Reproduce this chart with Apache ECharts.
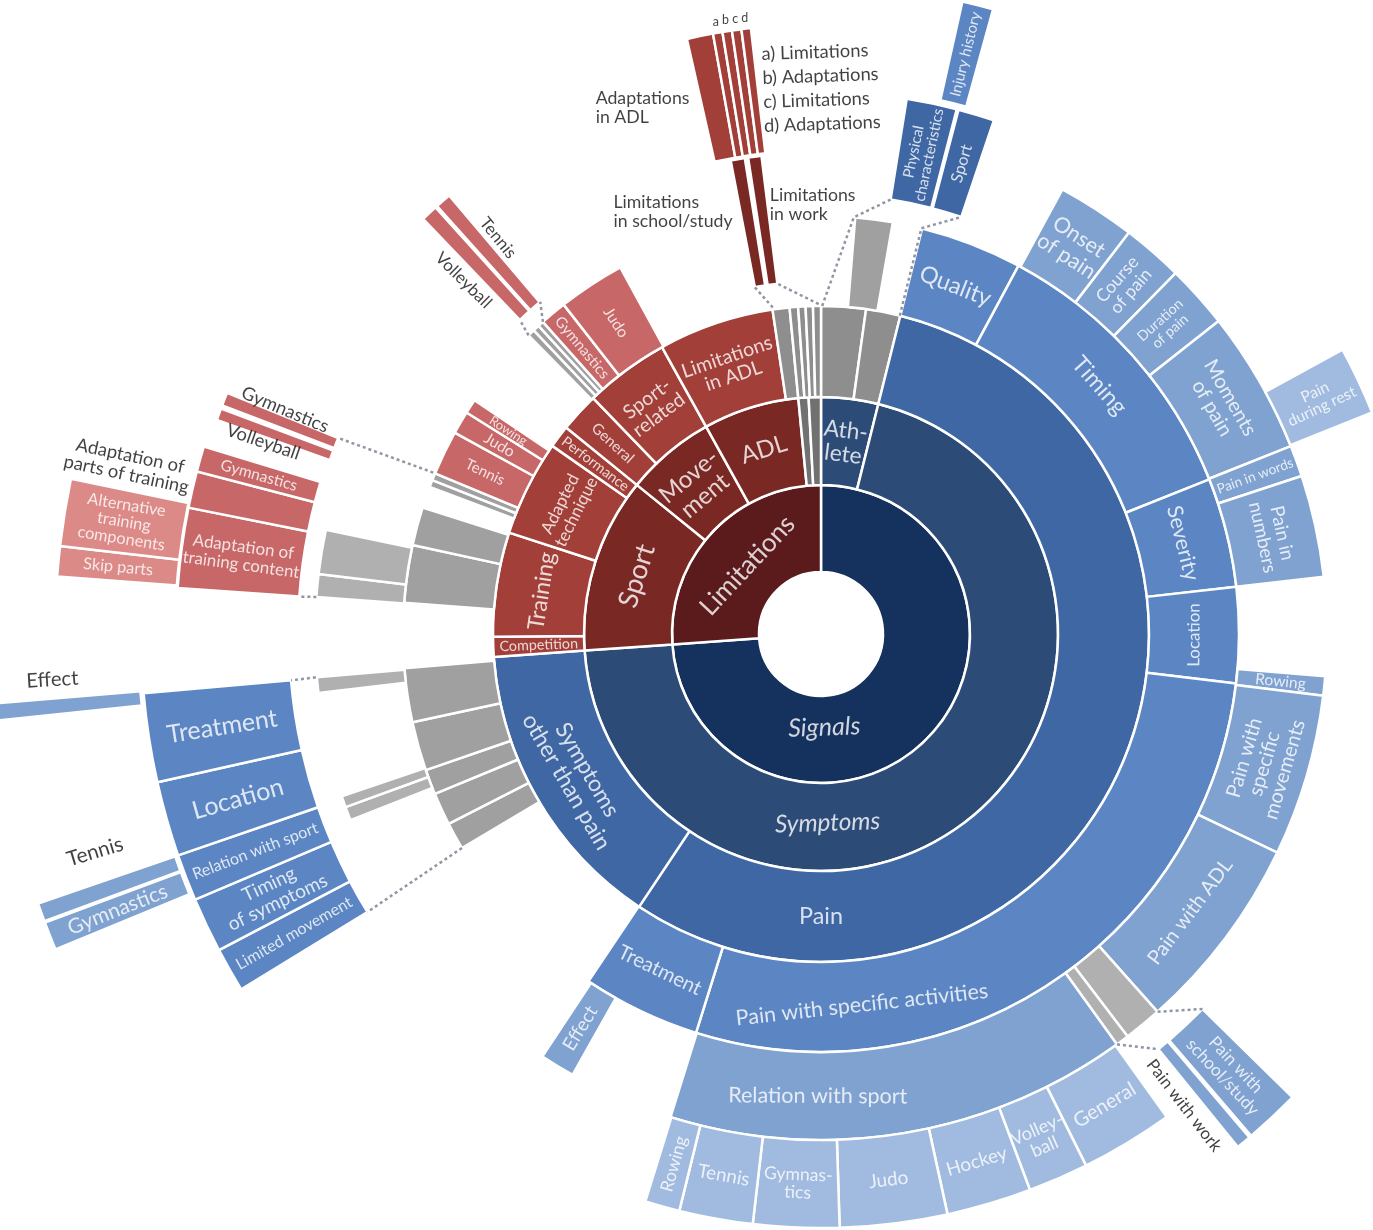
<!DOCTYPE html>
<html><head><meta charset="utf-8">
<script src="https://cdn.jsdelivr.net/npm/echarts/dist/echarts.min.js"></script>
<style>html,body{margin:0;padding:0;background:#fff}#c{width:1373px;height:1230px}</style>
</head><body><div id="c"></div>
<script>
// ---------------- DATA (angular sizes in degrees, clockwise from 12 o'clock) ----------------
// '' = empty gap, '~' = grey (collapsed) segment
const ring1Names = ['Signals', 'Limitations'];
const ring1Values = [266, 94];

const ring2Names = ['Athlete', 'Symptoms', 'Sport', 'Movement', 'ADL', '~', '~'];
const ring2Values = [14, 252, 43, 22, 23.5, 2.5, 3];

const ring3Names = ['~', '~', 'Pain', 'Symptoms other than pain', 'Competition', 'Training', 'Adapted technique',
  'Performance', 'General', 'Sport-related', 'Limitations in ADL', '~', '~', '~', '~', '~'];
const ring3Values = [7.9, 6.1, 199.7, 52.3, 3.5, 18.5, 17, 4, 7, 15, 20.5, 3, 1.5, 1.3, 1.3, 1.4];

const ring4Names = ['', '~', '', 'Quality', 'Timing', 'Severity', 'Location', 'Pain with specific activities', 'Treatment',
  '', '~', '~', '~', '~', '~', '', '~', '~', '', '~', '~', 'Tennis', 'Judo', 'Rowing', '', '~', '~', '~', 'Gymnastics', 'Judo', ''];
const ring4Values = [4.7, 5.2, 4.1, 14.2, 40.1, 15.2, 13.3, 100.6, 16.4,
  25.4, 3.8, 4.5, 3.5, 6.8, 7.5, 9, 8, 5.3, 3, 1, 1, 6.2, 3.2, 2, 11.6, 1, 0.9, 0.8, 3.7, 9.3, 28.7];

const ring5Names = ['', 'Onset of pain', 'Course of pain', 'Duration of pain', 'Moments of pain', 'Pain in words', 'Pain in numbers',
  '', 'Rowing', 'Pain with specific movements', 'Pain with ADL', '~', '~', 'Relation with sport', '', 'Effect',
  '', '~', '~', '', '~', '', '~', '~', ''];
const ring5Values = [28.5, 9, 7, 7.3, 16.4, 3.6, 11.7, 11.3, 2.2, 18.6, 22.7, 4.4, 1.5, 53.1, 12.1, 4,
  35, 1.6, 1.3, 12, 1.8, 9.1, 2.6, 5.1, 78.1];

const ring6Names = ['', 'Pain during rest', '', 'General', 'Volleyball', 'Hockey', 'Judo', 'Gymnastics', 'Tennis', 'Rowing', ''];
const ring6Values = [61.4, 6.7, 76.3, 9.1, 5.9, 8.3, 10.5, 8.4, 7.2, 3.4, 162.8];

// detached (pulled-out) groups
const athleteOutNames = ['Physical characteristics', '', 'Sport'];
const athleteOutValues = [5.4, 0.2, 3.9];
const athleteOut2Names = ['Injury history'];
const athleteOut2Values = [2.8];

const adlOutNames = ['Limitations in school/study', '', 'Limitations in work'];
const adlOutValues = [1.7, 0.4, 1.6];
const adlOut2Names = ['Adaptations in ADL', 'a', 'b', 'c', 'd'];
const adlOut2Values = [2.5, 0.9, 0.9, 0.9, 0.9];

const sportRelOutNames = ['Volleyball', '', 'Tennis'];
const sportRelOutValues = [1.7, 0.2, 1.6];

const techOutNames = ['Volleyball', '', 'Gymnastics'];
const techOutValues = [1.1, 0.3, 1.2];

const trainOutNames = ['Adaptation of training content', '(unlabelled)', 'Gymnastics'];
const trainOutValues = [7.2, 3.3, 2.3];
const trainOut2Names = ['Skip parts', 'Alternative training components'];
const trainOut2Values = [2.3, 5.1];

const otherOutNames = ['Limited movement', 'Timing of symptoms', 'Relation with sport', 'Location', 'Treatment'];
const otherOutValues = [3.8, 4.7, 4, 6.4, 7.6];
const otherOut2Names = ['Gymnastics', '', 'Tennis', '', 'Effect'];
const otherOut2Values = [2, 0.1, 1.3, 13, 1.2];

const schoolOutNames = ['Pain with school/study', '', 'Pain with work'];
const schoolOutValues = [4.9, 0.2, 1.3];

// ---------------- LAYOUT ----------------
const CX = 821, CY = 634;
const groups = [
  { id: 'r1', r: [62, 149], start: 0, names: ring1Names, values: ring1Values, level: 1 },
  { id: 'r2', r: [149, 237], start: 0, names: ring2Names, values: ring2Values, level: 2 },
  { id: 'r3', r: [237, 328], start: 0, names: ring3Names, values: ring3Values, level: 3 },
  { id: 'r4', r: [328, 418], start: 0, names: ring4Names, values: ring4Values, level: 4 },
  { id: 'r5', r: [418, 506], start: 0, names: ring5Names, values: ring5Values, level: 5 },
  { id: 'r6', r: [506, 594], start: 0, names: ring6Names, values: ring6Values, level: 6 },
  { id: 'aC1', r: [440, 542], start: 9.1, names: athleteOutNames, values: athleteOutValues, level: 3 },
  { id: 'aC2', r: [547, 648], start: 12.6, names: athleteOut2Names, values: athleteOut2Values, level: 4 },
  { id: 'tC1', r: [353, 482], start: 349.2, names: adlOutNames, values: adlOutValues, level: 2 },
  { id: 'tC2', r: [484, 610], start: 347.3, names: adlOut2Names, values: adlOut2Values, level: 3 },
  { id: 'sC', r: [435, 575], start: 316.2, names: sportRelOutNames, values: sportRelOutValues, level: 4 },
  { id: 'trB', r: [521, 641], start: 289.5, names: techOutNames, values: techOutValues, level: 4 },
  { id: 'tr1', r: [523, 645], start: 274.1, names: trainOutNames, values: trainOutValues, level: 4 },
  { id: 'tr2', r: [646, 766], start: 274.3, names: trainOut2Names, values: trainOut2Values, level: 5 },
  { id: 'lC1', r: [532, 680], start: 238.5, names: otherOutNames, values: otherOutValues, level: 4 },
  { id: 'lC2', r: [683, 828], start: 247.6, names: otherOut2Names, values: otherOut2Values, level: 5 },
  { id: 'bC', r: [535, 661], start: 134.5, names: schoolOutNames, values: schoolOutValues, level: 5 }
];

// dotted connectors [radius, angle]
const connectors = [
  [[328, 0.2], [418, 4.5], [440, 9.1]],
  [[328, 13.9], [418, 13.9], [440, 18.6]],
  [[330, 351.6], [353, 349.2]],
  [[330, 359.6], [353, 352.9]],
  [[418, 315.6], [435, 316.2]],
  [[418, 318.3], [435, 319.8]],
  [[420, 292.6], [521, 292.1]],
  [[506, 274.2], [523, 274.1]],
  [[507, 265.1], [532, 265]],
  [[418, 239.2], [532, 238.5]],
  [[506, 138.3], [535, 134.5]],
  [[506, 144.2], [535, 140.9]]
];

const PAL = {
  blue: ['#15315d', '#2d4b77', '#3f67a4', '#5b86c3', '#7fa2d0', '#a0bbdf'],
  red: ['#5b1b1d', '#7a2823', '#a23f38', '#c76767', '#db8a88', '#e5a5a4'],
  gray: ['#5e5e5e', '#717171', '#8e8e8e', '#a0a0a0', '#b0b0b0', '#bdbdbd']
};
const K = '#111';
const FS = 1.3; // font scale
const LBL = {
  'r1|Signals': { m: 't', fs: 19.3, at: 178, dR: -12, it: 1 },
  'r1|Limitations': { m: 't', fs: 20, dR: -5 },
  'r2|Athlete': { m: 't', fs: 17.5, tx: 'Ath-\nlete' },
  'r2|Symptoms': { m: 't', fs: 18.8, at: 178, dR: -4, it: 1 },
  'r2|Sport': { m: 't', fs: 21 },
  'r2|Movement': { m: 't', fs: 18.5, tx: 'Move-\nment' },
  'r2|ADL': { m: 't', fs: 18.5 },
  'r3|Pain': { m: 't', fs: 18, at: 180 },
  'r3|Symptoms other than pain': { m: 't', fs: 17.5, tx: 'Symptoms\nother than pain' },
  'r3|Competition': { m: 'r', fs: 11 },
  'r3|Training': { m: 't', fs: 17.5 },
  'r3|Adapted technique': { m: 't', fs: 13.3, tx: 'Adapted\ntechnique' },
  'r3|Performance': { m: 'r', fs: 11 },
  'r3|General': { m: 'r', fs: 11.5 },
  'r3|Sport-related': { m: 't', fs: 15, tx: 'Sport-\nrelated' },
  'r3|Limitations in ADL': { m: 't', fs: 15, tx: 'Limitations\nin ADL' },
  'r4|Quality': { m: 't', fs: 18 },
  'r4|Timing': { m: 't', fs: 18 },
  'r4|Severity': { m: 't', fs: 16.5 },
  'r4|Location': { m: 't', fs: 13 },
  'r4|Pain with specific activities': { m: 't', fs: 16.5, at: 173.7 },
  'r4|Treatment': { m: 't', fs: 15.5 },
  'r4|Tennis': { m: 'r', fs: 11.5 },
  'r4|Judo': { m: 'r', fs: 12 },
  'r4|Rowing': { m: 'r', fs: 10 },
  'r4|Gymnastics': { m: 'r', fs: 11.5 },
  'r5|Onset of pain': { m: 't', fs: 16.5, tx: 'Onset\nof pain' },
  'r5|Course of pain': { m: 'r', fs: 13.5, tx: 'Course\nof pain' },
  'r5|Duration of pain': { m: 'r', fs: 11, tx: 'Duration\nof pain' },
  'r5|Moments of pain': { m: 't', fs: 15.5, tx: 'Moments\nof pain' },
  'r5|Pain in words': { m: 'r', fs: 10.5 },
  'r5|Pain in numbers': { m: 't', fs: 14.5, tx: 'Pain in\nnumbers' },
  'r5|Rowing': { m: 'r', fs: 12 },
  'r5|Pain with specific movements': { m: 't', fs: 15.5, tx: 'Pain with\nspecific\nmovements' },
  'r5|Pain with ADL': { m: 't', fs: 15.5 },
  'r5|Relation with sport': { m: 't', fs: 16.5, at: 180.4 },
  'r5|Effect': { m: 'r', fs: 14.5 },
  'r6|Pain during rest': { m: 'r', fs: 12, tx: 'Pain\nduring rest' },
  'r6|General': { m: 't', fs: 15.5 },
  'r6|Volleyball': { m: 't', fs: 14, tx: 'Volley-\nball' },
  'r6|Hockey': { m: 't', fs: 14.5 },
  'r6|Judo': { m: 't', fs: 14.5 },
  'r6|Gymnastics': { m: 't', fs: 13.5, tx: 'Gymnas-\ntics' },
  'r6|Tennis': { m: 't', fs: 14.5 },
  'r6|Rowing': { m: 'r', fs: 13.5 },
  'aC1|Physical characteristics': { m: 'r', fs: 11.5, tx: 'Physical\ncharacteristics' },
  'aC1|Sport': { m: 'r', fs: 12.5 },
  'aC2|Injury history': { m: 'r', fs: 11.5 },
  'tC1|Limitations in school/study': { m: 0, fs: 13.6, c: K, at: 333.8, rr: 470, al: 'left', tx: 'Limitations\nin school/study' },
  'tC1|Limitations in work': { m: 0, fs: 13.6, c: K, at: 353.2, rr: 432, al: 'left', tx: 'Limitations\nin work' },
  'tC2|Adaptations in ADL': { m: 0, fs: 13.6, c: K, at: 336.8, rr: 572, al: 'left', tx: 'Adaptations\nin ADL' },
  'tC2|a': { m: 0, fs: 9.5, c: K, rr: 621 },
  'tC2|b': { m: 0, fs: 9.5, c: K, rr: 621 },
  'tC2|c': { m: 0, fs: 9.5, c: K, rr: 621 },
  'tC2|d': [{ m: 0, fs: 9.5, c: K, rr: 621 },
    { m: 2, fs: 14.1, c: K, at: 353.9, rr: 547, al: 'left', lh: 24, tx: 'a) Limitations\nb) Adaptations\nc) Limitations\nd) Adaptations' }],
  'sC|Volleyball': { m: 'r', fs: 13.1, c: K, at: 314.7, rr: 503 },
  'sC|Tennis': { m: 'r', fs: 13.1, c: K, at: 320.8, rr: 511 },
  'trB|Volleyball': { m: 'r', fs: 14.1, c: K, at: 289, rr: 590 },
  'trB|Gymnastics': { m: 'r', fs: 14.1, c: K, at: 292.7, rr: 581 },
  'tr1|Adaptation of training content': { m: 'r', fs: 13, tx: 'Adaptation of\ntraining content' },
  'tr1|Gymnastics': { m: 'r', fs: 12 },
  'tr2|Alternative training components': [{ m: 'r', fs: 12.5, tx: 'Alternative\ntraining\ncomponents' },
    { m: -12, fs: 14.1, c: K, at: 283.7, rr: 713, tx: 'Adaptation of\nparts of training' }],
  'tr2|Skip parts': { m: 'r', fs: 12.5 },
  'lC1|Treatment': { m: 'r', fs: 19.2 },
  'lC1|Location': { m: 'r', fs: 19.2 },
  'lC1|Relation with sport': { m: 'r', fs: 12.3 },
  'lC1|Timing of symptoms': { m: 'r', fs: 14.7, tx: 'Timing\nof symptoms' },
  'lC1|Limited movement': { m: 'r', fs: 12.3 },
  'lC2|Gymnastics': { m: 'r', fs: 16 },
  'lC2|Tennis': { m: 'r', fs: 16, c: K, at: 253.3, rr: 758 },
  'lC2|Effect': { m: 'r', fs: 15.5, c: K, at: 266.6, rr: 770 },
  'bC|Pain with school/study': { m: 'r', fs: 13.2, tx: 'Pain with\nschool/study' },
  'bC|Pain with work': { m: 'r', fs: 13.1, c: K, at: 142.4, rr: 595 }
};

// ---------------- BUILD ----------------
function tanRot(b) { b = ((b % 360) + 360) % 360; if (b > 90 && b < 270) return 180 - b; return b <= 90 ? -b : 360 - b; }
function radRot(b) { b = ((b % 360) + 360) % 360; return b <= 180 ? 90 - b : 270 - b; }
function colorFor(name, level, mid) {
  if (name === '~') return PAL.gray[level - 1];
  const red = mid > 265.95 && mid < 360;
  return (red ? PAL.red : PAL.blue)[level - 1];
}
function gap(v) { return { name: '', value: v, itemStyle: { color: 'rgba(0,0,0,0)', borderWidth: 0 } }; }

const FONT = 'Lato, "Open Sans", sans-serif';
const series = [];
const labelData = [];
groups.forEach(g => {
  const data = [];
  let a = g.start;
  if (g.start > 0) data.push(gap(g.start));
  const rm = (g.r[0] + g.r[1]) / 2;
  g.names.forEach((n, i) => {
    const v = g.values[i];
    const mid = a + v / 2;
    if (n === '') data.push(gap(v));
    else {
      data.push({ name: n, value: v, itemStyle: { color: colorFor(n, g.level, mid) } });
      const specs = LBL[g.id + '|' + n];
      if (specs) [].concat(specs).forEach(s => {
        const ang = s.at !== undefined ? s.at : mid + (s.dA || 0);
        const rad = s.rr !== undefined ? s.rr : rm + (s.dR || 0);
        const rot = s.m === 't' ? tanRot(ang) : (s.m === 'r' ? radRot(ang) : s.m);
        const fs = Math.round(s.fs * FS * 10) / 10;
        labelData.push({
          value: [rad, ang],
          label: {
            show: true, position: 'inside', formatter: s.tx || n, rotate: rot,
            fontSize: fs, color: s.c || '#fff', fontFamily: FONT,
            fontStyle: s.it ? 'italic' : 'normal', align: s.al || 'center', verticalAlign: 'middle',
            lineHeight: s.lh || Math.round(fs * 1.05)
          }
        });
      });
    }
    a += v;
  });
  if (a < 360) data.push(gap(360 - a));
  series.push({
    type: 'pie', center: [CX, CY], radius: g.r, startAngle: 90, clockwise: true,
    silent: true, animation: false, avoidLabelOverlap: false,
    label: { show: false }, labelLine: { show: false }, emphasis: { disabled: true },
    itemStyle: { borderColor: '#fff', borderWidth: 2.5 },
    data: data, z: 2
  });
});

connectors.forEach(pts => series.push({
  type: 'line', coordinateSystem: 'polar', data: pts, symbol: 'none', silent: true, animation: false, z: 3,
  lineStyle: { type: [3, 3], width: 2.5, color: '#8f96a4' }
}));

series.push({
  type: 'scatter', coordinateSystem: 'polar', data: labelData, symbol: 'circle', symbolSize: 1,
  itemStyle: { color: 'rgba(0,0,0,0)' }, silent: true, animation: false, z: 10
});

const chart = echarts.init(document.getElementById('c'), null, { renderer: 'canvas' });
chart.setOption({
  animation: false,
  backgroundColor: '#fff',
  textStyle: { fontFamily: FONT },
  polar: { center: [CX, CY], radius: 1000 },
  angleAxis: { type: 'value', min: 0, max: 360, startAngle: 90, clockwise: true, show: false,
    axisLine: { show: false }, axisTick: { show: false }, axisLabel: { show: false }, splitLine: { show: false } },
  radiusAxis: { type: 'value', min: 0, max: 1000, show: false,
    axisLine: { show: false }, axisTick: { show: false }, axisLabel: { show: false }, splitLine: { show: false } },
  series: series
});
</script></body></html>
